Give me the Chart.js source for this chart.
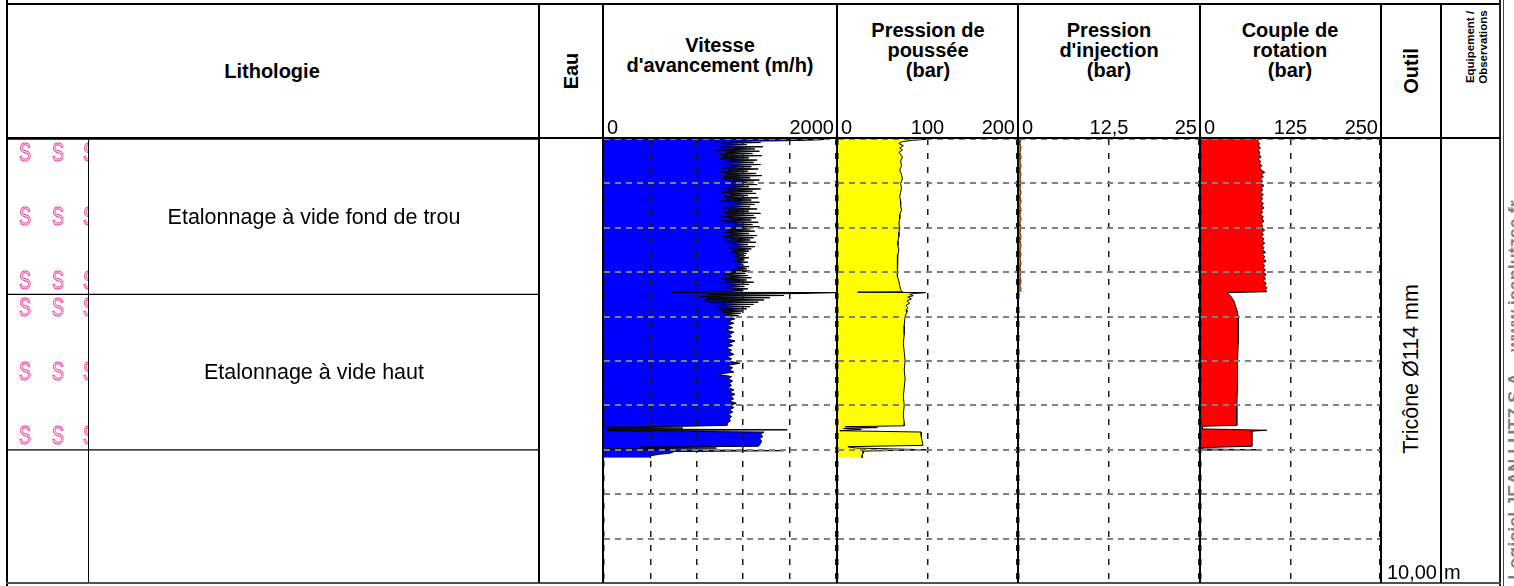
<!DOCTYPE html>
<html><head><meta charset="utf-8">
<script src="https://cdn.jsdelivr.net/npm/chart.js@4.4.1/dist/chart.umd.min.js"></script>
<style>
html,body{margin:0;padding:0;background:#fff;}
#root{position:relative;width:1514px;height:586px;overflow:hidden;font-family:"Liberation Sans",Arial,sans-serif;color:#000;background:#fff;}
.ln{position:absolute;}
.t{position:absolute;white-space:nowrap;}
.c{transform:translate(-50%,-50%);}
.rot{transform:translate(-50%,-50%) rotate(-90deg);}
canvas{position:absolute;}
.glyph{position:absolute;font-family:"Liberation Sans",Arial,sans-serif;font-size:25px;line-height:25px;color:transparent;-webkit-text-stroke:1px #ff2d95;transform:translate(-50%,-50%) scaleX(0.72);}
</style></head><body><div id="root"></div>
<script>
// ---------------- DATA ----------------
const depthMin = 0, depthMax = 10;
const layerTop    = [0, 3.5, 7.0];
const layerBottom = [3.5, 7.0, 10];
const layerText   = ["Etalonnage à vide fond de trou", "Etalonnage à vide haut", ""];
const layerHasPattern = [true, true, false];

const colTitles = [
  ["Vitesse", "d'avancement (m/h)"],
  ["Pression de", "poussée", "(bar)"],
  ["Pression", "d'injection", "(bar)"],
  ["Couple de", "rotation", "(bar)"]
];
const vitLabels = ["0", "2000"];
const pousLabels = ["0", "100", "200"];
const injLabels = ["0", "12,5", "25"];
const coupLabels = ["0", "125", "250"];
const toolText = "Tricône Ø114 mm";

// Vitesse d'avancement (m/h) versus depth (m)
const depthV = [0.00,0.02,0.04,0.06,0.08,0.10,
0.125,0.15,0.175,0.2,0.225,0.25,0.275,0.3,0.325,0.35,
0.375,0.4,0.425,0.45,0.475,0.5,0.525,0.55,0.575,0.6,
0.625,0.65,0.675,0.7,0.725,0.75,0.775,0.8,0.825,0.85,
0.875,0.9,0.925,0.95,0.975,1.0,1.025,1.05,1.075,1.1,
1.125,1.15,1.175,1.2,1.225,1.25,1.275,1.3,1.325,1.35,
1.375,1.4,1.425,1.45,1.475,1.5,1.525,1.55,1.575,1.6,
1.625,1.65,1.675,1.7,1.725,1.75,1.775,1.8,1.825,1.85,
1.875,1.9,1.925,1.95,1.975,2.0,2.025,2.05,2.075,2.1,
2.125,2.15,2.175,2.2,2.225,2.25,2.275,2.3,2.325,2.35,
2.375,2.4,2.425,2.45,2.475,2.5,2.525,2.55,2.575,2.6,
2.625,2.65,2.675,2.7,2.725,2.75,2.775,2.8,2.825,2.85,
2.875,2.9,2.925,2.95,2.975,3.0,3.025,3.05,3.075,3.1,
3.125,3.15,3.175,3.2,3.225,3.25,3.275,3.3,3.325,3.35,
3.375,3.4,
3.42,3.44,3.45,3.46,3.48,3.50,
3.525,3.55,3.575,3.6,3.625,3.65,3.675,3.7,3.725,3.75,3.775,3.8,3.825,3.85,3.875,3.9,3.925,3.95,3.975,4.0,
4.05,4.1,4.15,4.2,4.25,4.3,4.35,4.4,4.45,4.5,
4.55,4.6,4.65,4.7,4.75,4.8,4.85,4.9,4.95,5.0,
5.05,5.1,5.15,5.2,5.25,5.3,5.35,5.4,5.45,5.5,
5.55,5.6,5.65,5.7,5.75,5.8,5.85,5.9,5.95,6.0,
6.05,6.1,6.15,6.2,6.25,6.3,6.35,6.4,6.45,
6.47,6.49,6.51,6.53,6.55,6.57,6.60,6.65,6.70,6.75,6.80,6.85,6.90,6.92,6.94,6.96,6.98,7.00,7.02,7.04,
7.06,7.08,7.10,7.12,7.14,7.16,7.18];
const vitesse = [1950,1850,1550,900,1350,1000,
1230,980,1370,1010,1300,960,1340,1050,1280,1000,
1360,1020,1250,990,1320,1060,1290,1000,1350,1040,
1270,1010,1330,1070,1240,1000,1310,1050,1360,1020,
1260,1030,1340,1080,1290,1000,1320,1060,1250,1020,
1350,1070,1280,1010,1310,1090,1240,1030,1330,1050,
1270,1000,1340,1080,1300,1040,1260,1010,1320,1070,
1250,1030,1350,1060,1290,1020,1310,1080,1270,1000,
1330,1050,1280,1090,1340,1030,1260,1070,1300,1040,
1250,1080,1320,1020,1290,1100,1260,1050,1310,1070,
1240,1090,1300,1060,1270,1120,1250,1100,1230,1140,
1220,1130,1250,1150,1210,1120,1240,1160,1200,1130,
1250,1140,1230,1100,1260,1060,1220,1030,1240,1080,
1270,1010,1230,1050,1290,1000,1250,1060,1210,1020,
1240,1120,
1200,1000,590,2000,1700,900,
1550,820,1430,880,1380,850,1330,900,1290,930,1260,960,1230,990,1200,1010,1180,1040,1160,1060,
1130,1070,1120,1060,1110,1050,1120,1080,1100,1060,
1130,1070,1110,1050,1100,1080,1120,1060,1100,1070,
1170,1060,1110,1080,1120,980,1100,1070,1110,1080,
1100,1070,1120,1080,1130,1090,1120,1080,1140,1090,
1120,1080,1110,1070,1100,1080,1090,1060,1060,
680,20,680,20,1580,30,1380,1350,1370,1340,1360,1350,1340,1330,300,970,20,700,1550,600,
590,560,480,430,400,400,400];

// Pression de poussée (bar)
const depthP = [0.00,0.03,0.06,0.10,0.15,0.20,0.25,0.30,0.40,0.50,0.60,0.70,0.80,0.90,1.00,1.10,1.20,1.30,1.40,1.50,
1.60,1.70,1.80,1.90,2.00,2.10,2.20,2.30,2.40,2.50,2.60,2.70,2.80,2.90,3.00,3.10,3.20,3.30,3.40,3.44,
3.45,3.46,3.48,3.50,3.53,3.56,3.60,3.65,3.70,3.75,3.80,3.85,3.90,4.00,4.20,4.40,4.60,4.80,5.00,5.20,
5.40,5.60,5.80,6.00,6.20,6.40,6.46,6.48,6.50,6.52,6.54,6.57,6.60,6.70,6.80,6.90,6.93,6.96,7.00,7.03,
7.08,7.12,7.18];
const poussee = [104,83,72,68,73,69,72,68,72,70,71,69,71,72,70,71,70,69,70,70,
71,69,69,68,69,68,68,67,67,68,67,66,66,67,66,67,68,69,70,72,
22,98,85,80,84,78,82,77,80,76,78,76,77,75,74,74,73,74,75,74,
75,74,73,74,73,74,74,8,44,6,26,2,93,93,94,95,11,20,102,28,
28,27,27];

// Pression d'injection (bar)
const depthI = [0.0,0.1,0.2,0.3,0.4,0.5,0.6,0.7,0.8,0.9,1.0,1.1,1.2,1.3,1.4,1.5,1.6,1.7,1.8,1.9,
2.0,2.1,2.2,2.3,2.4,2.5,2.6,2.7,2.8,2.9,3.0,3.1,3.2,3.3,3.4,3.45];
const injection = [0.3,0.15,0.3,0.15,0.3,0.15,0.3,0.15,0.3,0.15,0.3,0.15,0.3,0.15,0.3,0.15,0.3,0.15,0.3,0.15,
0.3,0.15,0.3,0.15,0.3,0.15,0.3,0.15,0.3,0.15,0.3,0.15,0.3,0.15,0.3,0.15];

// Couple de rotation (bar)
const depthC = [0.00,0.03,0.05,0.10,0.15,0.20,0.25,0.30,0.35,0.40,0.45,0.50,0.55,0.60,0.65,0.70,0.75,0.80,0.85,0.90,
0.95,1.00,1.05,1.10,1.15,1.20,1.25,1.30,1.35,1.40,1.45,1.50,1.55,1.60,1.65,1.70,1.75,1.80,1.85,1.90,
1.95,2.00,2.05,2.10,2.15,2.20,2.25,2.30,2.35,2.40,2.45,2.50,2.55,2.60,2.65,2.70,2.75,2.80,2.85,2.90,
2.95,3.00,3.05,3.10,3.15,3.20,3.25,3.30,3.35,3.40,3.44,3.46,3.50,3.55,3.60,3.65,3.70,3.80,3.90,4.00,
4.30,4.60,5.00,5.50,6.00,6.45,6.47,6.53,6.56,6.58,6.70,6.80,6.92,6.95,6.98,7.00,7.01];
const couple = [76,80,79,82,80,83,80,82,81,84,80,83,82,85,82,84,89,84,87,83,
86,84,88,84,86,83,87,84,86,83,87,85,88,84,86,83,87,85,88,84,
86,85,89,85,87,84,88,86,89,85,88,86,90,86,89,87,91,86,89,87,
90,87,91,88,90,87,91,89,92,90,92,37,39,42,44,46,47,49,51,52,
52,52,51,51,50,50,2,2,92,71,71,71,71,2,2,78,0];

// ---------------- LAYOUT ----------------
const root = document.getElementById('root');
const DT = 139, DH = 444;
function px(v){ return v + 'px'; }
function el(tag, cls, css, text){
  const d = document.createElement(tag);
  if (cls) d.className = cls;
  Object.assign(d.style, css || {});
  if (text !== undefined) d.textContent = text;
  root.appendChild(d);
  return d;
}
function line(x, y, w, h, color){ el('div','ln',{left:px(x),top:px(y),width:px(w),height:px(h),background:color||'#000'}); }
function text(x, y, str, css, cls){ return el('div','t ' + (cls||'c'), Object.assign({left:px(x),top:px(y)}, css||{}), str); }

// lithology chart (layer boxes)
const lithoCanvas = el('canvas', '', {left:px(8), top:px(DT)});
lithoCanvas.width = 530; lithoCanvas.height = DH;
const lithoChart = new Chart(lithoCanvas, {
  type: 'bar',
  data: {
    labels: ['litho'],
    datasets: layerTop.map((t, i) => ({
      data: [[t, layerBottom[i]]],
      backgroundColor: '#ffffff',
      borderColor: '#000000',
      borderWidth: {top: 1, bottom: 1, left: 0, right: 0},
      borderSkipped: false,
      barPercentage: 1, categoryPercentage: 1, grouped: false
    }))
  },
  options: {
    responsive: false, animation: false, events: [],
    layout: {padding: 0},
    plugins: {legend: {display: false}, tooltip: {enabled: false}},
    scales: {
      x: {display: false},
      y: {display: false, min: depthMin, max: depthMax, reverse: true}
    }
  }
});

// data columns
const dataCols = [
  {left:604, width:232, max:2000, step:400, depth:depthV, vals:vitesse, fill:'#0000ff', stroke:'#000000'},
  {left:838, width:179, max:200, step:100, depth:depthP, vals:poussee, fill:'#ffff00', stroke:'#000000'},
  {left:1019, width:180, max:25, step:12.5, depth:depthI, vals:injection, fill:'#c87020', stroke:'#6b3a10'},
  {left:1201, width:179, max:250, step:125, depth:depthC, vals:couple, fill:'#ff0000', stroke:'#000000'}
];
dataCols.forEach(c => {
  const cv = el('canvas', '', {left:px(c.left), top:px(DT)});
  cv.width = c.width; cv.height = DH;
  new Chart(cv, {
    type: 'line',
    data: {datasets: [{
      data: c.depth.map((d, i) => ({x: c.vals[i], y: d})),
      borderColor: c.stroke, borderWidth: 1, backgroundColor: c.fill,
      fill: 'origin', pointRadius: 0, tension: 0
    }]},
    options: {
      indexAxis: 'y', responsive: false, animation: false, events: [],
      layout: {padding: 0},
      plugins: {legend: {display: false}, tooltip: {enabled: false}},
      scales: {
        x: {type: 'linear', min: 0, max: c.max,
            ticks: {display: false, stepSize: c.step},
            grid: {color: '#1a1a1a', lineWidth: 1.5, drawTicks: false, z: 1},
            border: {display: false, dash: [6, 8]}},
        y: {type: 'linear', min: depthMin, max: depthMax, reverse: true,
            ticks: {display: false, stepSize: 1},
            grid: {color: '#808080', lineWidth: 2, drawTicks: false, z: 1},
            border: {display: false, dash: [6, 5]}}
      }
    }
  });
});

// pattern glyphs (lithology symbols)
const patBox = el('div', '', {position:'absolute', left:px(8), top:px(DT), width:px(80), height:px(DH), overflow:'hidden'});
const ysc = lithoChart.scales.y;
layerTop.forEach((t, i) => {
  if (!layerHasPattern[i]) return;
  for (let d = t + 0.29; d + 0.2 < layerBottom[i]; d += 1.44) {
    [17, 50, 81].forEach(gx => {
      const g = document.createElement('div');
      g.className = 'glyph';
      g.textContent = 'S';
      g.style.left = px(gx);
      g.style.top = px(ysc.getPixelForValue(d));
      patBox.appendChild(g);
    });
  }
});

// lines
const K = '#000';
line(6, 3, 1495, 2, K);            // top line
line(6, 0, 2, 586, K);             // left border
line(1499, 0, 2, 586, '#222');     // right border
line(1503, 0, 1, 586, '#444');
line(6, 137, 1495, 2, K);          // header bottom
line(6, 582, 1495, 2, '#505050');  // bottom
[538, 602, 836, 1017, 1199, 1380, 1440].forEach(x => line(x, 4, 2, 579, K));
line(88, DT, 1, DH - 1, K);        // pattern column separator

// header text
const hd = {fontWeight:'bold', fontSize:'20px', lineHeight:'21px'};
text(272, 71, 'Lithologie', hd);
text(571, 71, 'Eau', hd, 'rot');
text(1411, 71, 'Outil', hd, 'rot');
const eq = text(1477, 47, '', {fontWeight:'bold', fontSize:'11.5px', lineHeight:'13px', textAlign:'center'}, 'rot');
eq.innerHTML = 'Equipement /<br>Observations';

const titleX = [720, 928, 1109, 1290];
const titleY0 = [45, 30, 30, 30];
colTitles.forEach((lines, i) => {
  lines.forEach((s, j) => text(titleX[i], titleY0[i] + j * 20, s, hd));
});

// tick labels
const tickFont = {fontSize:'20px', lineHeight:'20px'};
const tickCols = [
  {l:604, r:836, labels:vitLabels},
  {l:838, r:1017, labels:pousLabels},
  {l:1019, r:1199, labels:injLabels},
  {l:1201, r:1380, labels:coupLabels}
];
tickCols.forEach(tc => {
  const n = tc.labels.length;
  tc.labels.forEach((s, j) => {
    const d = el('div', 't', Object.assign({top:px(117)}, tickFont), s);
    if (j === 0) { d.style.left = px(tc.l + 3); }
    else if (j === n - 1) { d.style.right = px(1514 - tc.r + 2); }
    else { d.style.left = px((tc.l + tc.r) / 2); d.style.transform = 'translateX(-50%)'; }
  });
});

// lithology descriptions
layerText.forEach((s, i) => {
  if (!s) return;
  const y = DT + ysc.getPixelForValue((layerTop[i] + layerBottom[i]) / 2);
  text(314, y, s, {fontSize:'21.5px'});
});

// tool column
text(1411, 369, toolText, {fontSize:'21.5px'}, 'rot');
el('div', 't', {right:px(1514 - 1437), top:px(561), fontSize:'20px', lineHeight:'22px'}, depthMax.toFixed(2).replace('.', ','));
el('div', 't', {left:px(1444), top:px(561), fontSize:'20px', lineHeight:'22px'}, 'm');

// software credit
text(1515, 390, 'Logiciel JEAN LUTZ S.A. - www.jeanlutzsa.fr', {fontSize:'18px', fontWeight:'bold', color:'#808080', lineHeight:'20px'}, 'rot');
</script>
</body></html>
